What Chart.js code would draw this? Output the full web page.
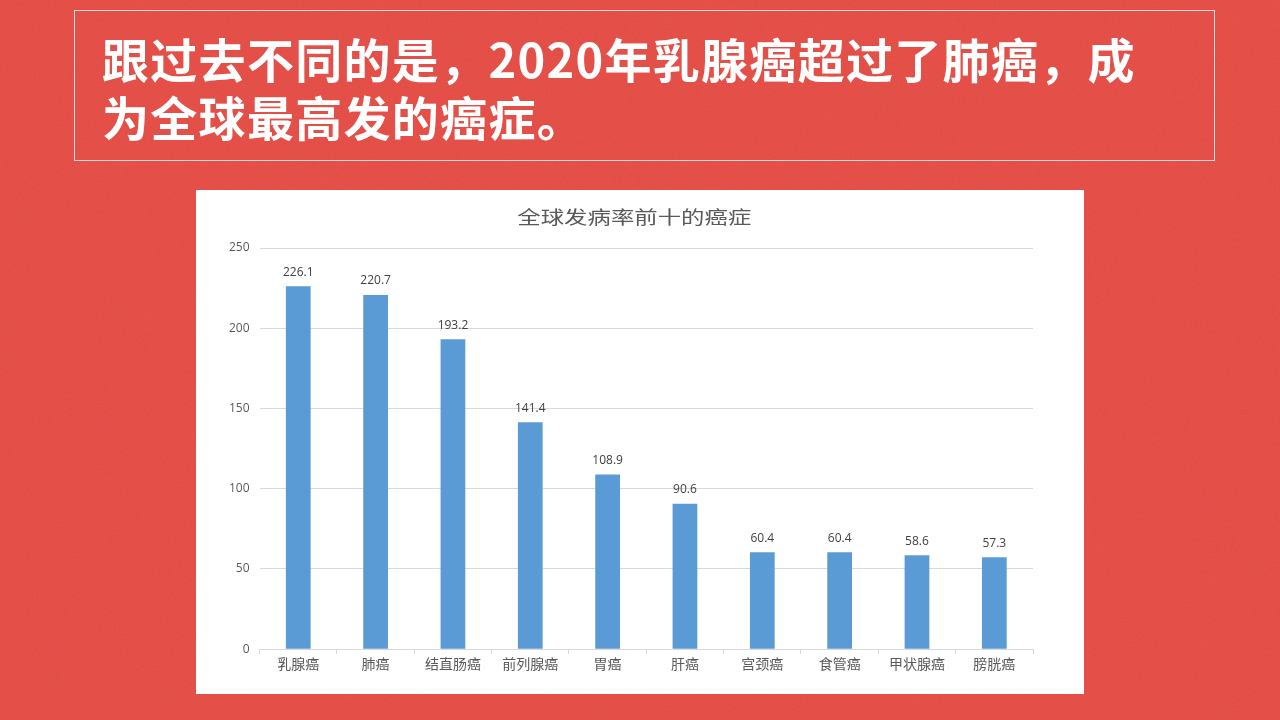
<!DOCTYPE html>
<html>
<head>
<meta charset="utf-8">
<script src="https://cdn.jsdelivr.net/npm/chart.js@4.4.1/dist/chart.umd.min.js"></script>
<style>
	html, body { margin: 0; padding: 0; }
	body {
		width: 1280px; height: 720px; overflow: hidden; position: relative;
		background: #e24b44;
		font-family: "Noto Sans CJK SC", "Noto Sans", sans-serif;
	}
	.grain {
		position: absolute; left: 0; top: 0; width: 1280px; height: 720px; opacity: 0.25;
		background-image: url("data:image/svg+xml;utf8,<svg xmlns='http://www.w3.org/2000/svg' width='1280' height='720'><filter id='n'><feTurbulence type='fractalNoise' baseFrequency='0.9' numOctaves='2' stitchTiles='stitch'/><feColorMatrix type='saturate' values='0'/></filter><rect width='100%' height='100%' filter='url(%23n)'/></svg>");
		mix-blend-mode: overlay;
	}
	.headline {
		position: absolute; left: 74px; top: 10px; width: 1141px; height: 151px;
		border: 1px solid #f4d6d4; box-sizing: border-box;
	}
	.headline p {
		position: absolute; left: 27px; top: 18px; margin: 0; white-space: nowrap;
		color: #fff; font-weight: 700; font-size: 47px; line-height: 58px;
		letter-spacing: 1.3px;
	}
	.panel {
		position: absolute; left: 196px; top: 190px; width: 888px; height: 504px;
		background: #fff;
	}
</style>
</head>
<body>
<div class="grain"></div>
<div class="headline"><p>跟过去不同的是，2020年乳腺癌超过了肺癌，成<br>为全球最高发的癌症。</p></div>
<div class="panel"><canvas id="chart" width="888" height="504"></canvas></div>
<script>
// 数据
const categories = ['乳腺癌', '肺癌', '结直肠癌', '前列腺癌', '胃癌', '肝癌', '宫颈癌', '食管癌', '甲状腺癌', '膀胱癌'];
const incidence = [226.1, 220.7, 193.2, 141.4, 108.9, 90.6, 60.4, 60.4, 58.6, 57.3];
const chartTitle = '全球发病率前十的癌症';
const yTicks = [0, 50, 100, 150, 200, 250];

// 柱顶数值标签
const valueLabels = {
	id: 'valueLabels',
	afterDatasetsDraw(chart) {
		const ctx = chart.ctx;
		const meta = chart.getDatasetMeta(0);
		ctx.save();
		ctx.fillStyle = '#404040';
		ctx.font = '12px "Open Sans", "Noto Sans", sans-serif';
		ctx.textAlign = 'center';
		ctx.textBaseline = 'bottom';
		meta.data.forEach((bar, i) => {
			ctx.fillText(incidence[i].toFixed(1), bar.x, bar.y - 8);
		});
		ctx.restore();
	}
};

// 标题（原图文字横向偏宽）
const wideTitle = {
	id: 'wideTitle',
	afterDraw(chart) {
		const ctx = chart.ctx;
		ctx.save();
		ctx.translate((chart.chartArea.left + chart.chartArea.right) / 2 - 12, 27);
		ctx.scale(1.3, 1);
		ctx.fillStyle = '#595959';
		ctx.font = '18px "Noto Sans CJK SC", sans-serif';
		ctx.textAlign = 'center';
		ctx.textBaseline = 'middle';
		ctx.fillText(chartTitle, 0, 0);
		ctx.restore();
	}
};

new Chart(document.getElementById('chart'), {
	type: 'bar',
	data: {
		labels: categories,
		datasets: [{
			data: incidence,
			backgroundColor: '#5b9bd5',
			barPercentage: 1,
			categoryPercentage: 0.32
		}]
	},
	options: {
		responsive: false,
		animation: false,
		layout: { padding: { left: 23, right: 51, top: 58, bottom: 21 } },
		plugins: {
			legend: { display: false },
			tooltip: { enabled: false },
			title: { display: false }
		},
		scales: {
			y: {
				min: 0,
				max: 250,
				afterBuildTicks(axis) { axis.ticks = yTicks.map(v => ({ value: v })); },
				border: { display: false },
				grid: { color: '#d9d9d9', drawTicks: false },
				ticks: {
					color: '#595959',
					padding: 10,
					font: { family: '"Open Sans", "Noto Sans", sans-serif', size: 12 }
				}
			},
			x: {
				border: { display: true, color: '#d9d9d9' },
				grid: { offset: true, drawOnChartArea: false, drawTicks: true, tickLength: 5, color: '#d9d9d9' },
				ticks: {
					color: '#595959',
					padding: 1,
					maxRotation: 0,
					font: { family: '"Noto Sans CJK SC", sans-serif', size: 14 }
				}
			}
		}
	},
	plugins: [valueLabels, wideTitle]
});
</script>
</body>
</html>
